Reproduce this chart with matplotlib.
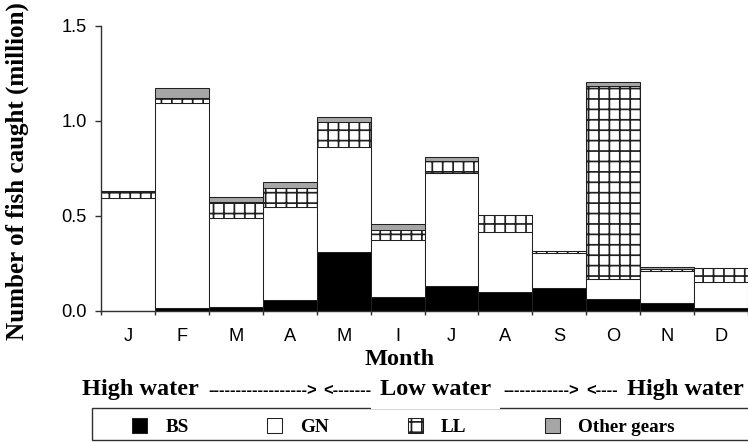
import matplotlib
matplotlib.use("Agg")

import matplotlib.pyplot as plt
from matplotlib.patches import Rectangle
import numpy as np

# catch per month and gear (million fish)
months = ["J", "F", "M", "A", "M", "I", "J", "A", "S", "O", "N", "D"]
bs = [0.0, 0.012, 0.02, 0.055, 0.31, 0.07, 0.13, 0.098, 0.117, 0.06, 0.038, 0.012]
gn = [0.593, 1.08, 0.466, 0.492, 0.553, 0.302, 0.596, 0.317, 0.184, 0.104, 0.172, 0.137]
ll = [0.039, 0.026, 0.084, 0.097, 0.129, 0.052, 0.062, 0.088, 0.011, 1.019, 0.01, 0.073]
other = [0.0, 0.057, 0.03, 0.035, 0.026, 0.03, 0.02, 0.0, 0.0, 0.023, 0.011, 0.0]
gear_names = ["BS", "GN", "LL", "Other gears"]

W, H, DPI = 748, 442, 125
plt.rcParams["hatch.linewidth"] = 1.0

fig = plt.figure(figsize=(W / DPI, H / DPI), dpi=DPI)
ax = fig.add_axes([101 / W, (H - 310.5) / H, (W - 101) / W, 284.5 / H])

x = np.arange(len(months))
edge = "#202020"
b1 = ax.bar(x, bs, width=1.0, color="black", edgecolor=edge, linewidth=0.6)
base = np.array(bs)
b2 = ax.bar(x, gn, width=1.0, bottom=base, color="white", edgecolor=edge, linewidth=0.6)
base = base + np.array(gn)
b3 = ax.bar(x, ll, width=1.0, bottom=base, color="white", edgecolor=edge,
            linewidth=0.6, hatch="++")
base = base + np.array(ll)
b4 = ax.bar(x, other, width=1.0, bottom=base, color="#a6a6a6", edgecolor=edge, linewidth=0.6)

ax.set_xlim(-0.5, -0.5 + (W - 101) / 54.27)
ax.set_ylim(0, 1.5)
ax.spines["top"].set_visible(False)
ax.spines["right"].set_visible(False)
for s in ["left", "bottom"]:
    ax.spines[s].set_color("#303030")
    ax.spines[s].set_linewidth(0.8)

ax.set_yticks([0, 0.5, 1.0, 1.5], ["0.0", "0.5", "1.0", "1.5"])
ax.set_xticks(np.arange(-0.5, len(months)), [])
ax.set_xticks(x, months, minor=True)
ax.tick_params(axis="y", length=3.5, width=0.8, pad=4.5, labelsize=10.5, color="#303030")
ax.tick_params(axis="x", which="major", length=2.5, width=0.8, color="#303030")
ax.tick_params(axis="x", which="minor", length=0, pad=10, labelsize=10.5)
for t in ax.get_xticklabels(minor=True) + ax.get_yticklabels():
    t.set_fontfamily("Liberation Sans")

serif = {"family": "Liberation Serif", "weight": "bold"}
ax.set_ylabel("Number of fish caught (million)", fontsize=14.5, **serif)
ax.yaxis.set_label_coords(-0.112, 0.49)
ax.set_xlabel("Month", fontsize=14, **serif)
ax.xaxis.set_label_coords((400 - 101) / (W - 101), -0.135)

# water level line under the axis
yb = (H - 395) / H
dash = {"family": "Liberation Sans", "weight": "bold", "size": 9.5}
fig.text(82 / W, yb, "High water", fontsize=14, va="baseline", **serif)
fig.text(208 / W, yb, "-" * 18 + ">", va="baseline", fontdict=dash)
fig.text(323 / W, yb, "<" + "-" * 7, va="baseline", fontdict=dash)
fig.text(380 / W, yb, "Low water", fontsize=14, va="baseline", zorder=5,
         bbox=dict(facecolor="white", edgecolor="none", pad=5), **serif)
fig.text(503 / W, yb, "-" * 12 + ">", va="baseline", fontdict=dash)
fig.text(586 / W, yb, "<" + "-" * 4, va="baseline", fontdict=dash)
fig.text(627 / W, yb, "High water", fontsize=14, va="baseline", **serif)

# legend box runs past the right edge
fig.add_artist(Rectangle((92 / W, (H - 440) / H), 700 / W, 32 / H, transform=fig.transFigure,
                         facecolor="none", edgecolor="#303030", linewidth=0.8, zorder=1))
fig.legend([b1, b2, b3, b4], gear_names, ncol=4, frameon=False, loc="center left",
           bbox_to_anchor=(132 / W, (H - 427) / H), borderpad=0, borderaxespad=0,
           handlelength=0.8, handleheight=0.8, handletextpad=0.95, columnspacing=4.1,
           prop={"family": "Liberation Serif", "weight": "bold", "size": 11})

fig.savefig("out.png", dpi=DPI)
